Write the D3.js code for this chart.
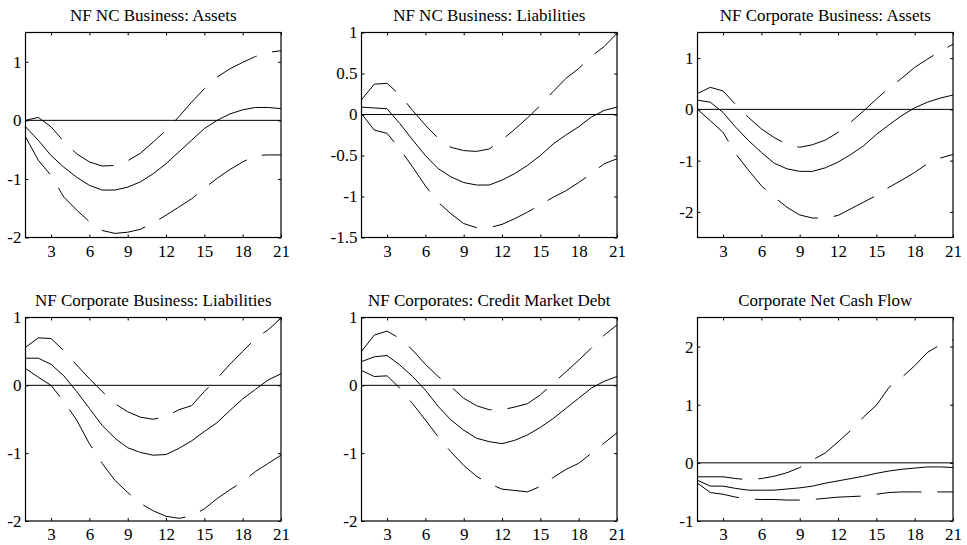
<!DOCTYPE html>
<html>
<head>
<meta charset="utf-8">
<script src="https://cdn.jsdelivr.net/npm/d3@7"></script>
<style>
  body { margin: 0; background: #fff; }
  text { font-family: "Liberation Serif", "Times New Roman", Times, serif; fill: #000; }
</style>
</head>
<body>
<svg id="chart" width="967" height="545"></svg>
<script>
// Impulse-response horizon (quarters) and shared tick marks
const horizon = [1, 2, 3, 4, 5, 6, 7, 8, 9, 10, 11, 12, 13, 14, 15, 16, 17, 18, 19, 20, 21];
const xTickValues = [3, 6, 9, 12, 15, 18, 21];

const titles = [
  "NF NC Business: Assets",
  "NF NC Business: Liabilities",
  "NF Corporate Business: Assets",
  "NF Corporate Business: Liabilities",
  "NF Corporates: Credit Market Debt",
  "Corporate Net Cash Flow"
];
const yDomains = [[-2, 1.5], [-1.5, 1], [-2.5, 1.5], [-2, 1], [-2, 1], [-1, 2.5]];
const yTickValues = [
  [-2, -1, 0, 1],
  [-1.5, -1, -0.5, 0, 0.5, 1],
  [-2, -1, 0, 1],
  [-2, -1, 0, 1],
  [-2, -1, 0, 1],
  [-1, 0, 1, 2]
];

// NF noncorporate business: assets
const ncAssetsMid   = [-0.11, -0.34, -0.60, -0.80, -0.97, -1.11, -1.19, -1.19, -1.14, -1.05, -0.91, -0.74, -0.54, -0.34, -0.14, 0.00, 0.11, 0.18, 0.22, 0.22, 0.20];
const ncAssetsUpper = [0.00, 0.05, -0.11, -0.36, -0.57, -0.71, -0.78, -0.77, -0.69, -0.56, -0.37, -0.17, 0.06, 0.31, 0.54, 0.74, 0.88, 0.99, 1.09, 1.16, 1.19];
const ncAssetsLower = [-0.28, -0.68, -0.94, -1.31, -1.53, -1.73, -1.88, -1.93, -1.91, -1.86, -1.75, -1.62, -1.48, -1.34, -1.16, -0.99, -0.84, -0.71, -0.60, -0.59, -0.59];

// NF noncorporate business: liabilities
const ncLiabMid   = [0.09, 0.08, 0.07, -0.11, -0.31, -0.50, -0.66, -0.76, -0.83, -0.86, -0.86, -0.80, -0.72, -0.62, -0.50, -0.36, -0.25, -0.15, -0.03, 0.05, 0.09];
const ncLiabUpper = [0.18, 0.37, 0.38, 0.24, 0.05, -0.13, -0.29, -0.40, -0.44, -0.45, -0.42, -0.31, -0.18, -0.04, 0.11, 0.28, 0.44, 0.56, 0.71, 0.83, 0.99];
const ncLiabLower = [0.01, -0.19, -0.23, -0.42, -0.64, -0.87, -1.07, -1.21, -1.33, -1.38, -1.38, -1.34, -1.27, -1.19, -1.10, -1.01, -0.93, -0.83, -0.72, -0.60, -0.54];

// NF corporate business: assets
const corpAssetsMid   = [0.18, 0.14, -0.06, -0.35, -0.61, -0.84, -1.05, -1.16, -1.21, -1.21, -1.14, -1.03, -0.88, -0.71, -0.49, -0.30, -0.12, 0.03, 0.14, 0.22, 0.28];
const corpAssetsUpper = [0.31, 0.43, 0.36, 0.09, -0.16, -0.38, -0.55, -0.68, -0.74, -0.69, -0.60, -0.45, -0.25, -0.03, 0.20, 0.42, 0.61, 0.82, 0.98, 1.14, 1.27];
const corpAssetsLower = [0.00, -0.22, -0.45, -0.87, -1.19, -1.49, -1.71, -1.91, -2.06, -2.12, -2.12, -2.07, -1.94, -1.81, -1.68, -1.52, -1.38, -1.23, -1.06, -0.95, -0.88];

// NF corporate business: liabilities
const corpLiabMid   = [0.40, 0.40, 0.31, 0.14, -0.09, -0.34, -0.59, -0.78, -0.92, -0.99, -1.03, -1.02, -0.93, -0.82, -0.68, -0.55, -0.37, -0.20, -0.06, 0.08, 0.17];
const corpLiabUpper = [0.56, 0.70, 0.69, 0.51, 0.30, 0.10, -0.09, -0.27, -0.39, -0.47, -0.50, -0.46, -0.36, -0.30, -0.09, 0.10, 0.31, 0.50, 0.69, 0.82, 0.99];
const corpLiabLower = [0.25, 0.12, 0.00, -0.24, -0.51, -0.86, -1.15, -1.40, -1.58, -1.74, -1.85, -1.93, -1.96, -1.93, -1.82, -1.67, -1.54, -1.42, -1.27, -1.15, -1.03];

// NF corporates: credit market debt
const debtMid   = [0.35, 0.42, 0.44, 0.30, 0.13, -0.07, -0.31, -0.51, -0.66, -0.78, -0.83, -0.86, -0.81, -0.73, -0.62, -0.49, -0.34, -0.19, -0.04, 0.06, 0.13];
const debtUpper = [0.50, 0.74, 0.80, 0.69, 0.52, 0.31, 0.13, -0.02, -0.19, -0.30, -0.36, -0.36, -0.32, -0.27, -0.14, 0.03, 0.20, 0.37, 0.55, 0.74, 0.89];
const debtLower = [0.22, 0.13, 0.14, -0.04, -0.27, -0.51, -0.76, -0.98, -1.18, -1.34, -1.45, -1.53, -1.55, -1.57, -1.49, -1.36, -1.24, -1.15, -1.00, -0.85, -0.70];

// Corporate net cash flow
const cashMid   = [-0.30, -0.40, -0.40, -0.44, -0.47, -0.47, -0.47, -0.45, -0.43, -0.40, -0.35, -0.31, -0.27, -0.23, -0.18, -0.14, -0.11, -0.09, -0.07, -0.07, -0.08];
const cashUpper = [-0.24, -0.24, -0.24, -0.27, -0.29, -0.27, -0.23, -0.17, -0.08, 0.05, 0.17, 0.36, 0.56, 0.79, 0.99, 1.30, 1.47, 1.67, 1.90, 2.03, 2.12];
const cashLower = [-0.35, -0.51, -0.54, -0.59, -0.62, -0.63, -0.63, -0.64, -0.64, -0.63, -0.61, -0.59, -0.58, -0.57, -0.54, -0.51, -0.50, -0.50, -0.50, -0.50, -0.50];

const mids   = [ncAssetsMid, ncLiabMid, corpAssetsMid, corpLiabMid, debtMid, cashMid];
const uppers = [ncAssetsUpper, ncLiabUpper, corpAssetsUpper, corpLiabUpper, debtUpper, cashUpper];
const lowers = [ncAssetsLower, ncLiabLower, corpAssetsLower, corpLiabLower, debtLower, cashLower];

// Grid of panels: 3 columns x 2 rows
const colLeft = [25.5, 361.5, 697.5];
const panelW = 255.5;
const rowTop = [32.5, 317.5];
const rowH = [205, 203.5];

const svg = d3.select("#chart");
svg.append("rect").attr("width", 967).attr("height", 545).attr("fill", "#fff");

titles.forEach((title, i) => {
  const col = i % 3, row = Math.floor(i / 3);
  const w = panelW, h = rowH[row];
  const g = svg.append("g").attr("transform", `translate(${colLeft[col]},${rowTop[row]})`);

  const x = d3.scaleLinear().domain([1, 21]).range([0, w]);
  const y = d3.scaleLinear().domain(yDomains[i]).range([h, 0]);

  // Title
  g.append("text")
    .attr("x", w / 2).attr("y", -12)
    .attr("text-anchor", "middle")
    .attr("font-size", 17)
    .text(title);

  // Axes with inward ticks on all four sides
  const fmt = d => String(d);
  const bottom = g.append("g").attr("transform", `translate(0,${h})`)
    .call(d3.axisBottom(x).tickValues(xTickValues).tickFormat(fmt).tickSizeInner(-3).tickSizeOuter(0).tickPadding(7));
  const top = g.append("g")
    .call(d3.axisTop(x).tickValues(xTickValues).tickFormat("").tickSizeInner(-3).tickSizeOuter(0));
  const left = g.append("g")
    .call(d3.axisLeft(y).tickValues(yTickValues[i]).tickFormat(fmt).tickSizeInner(-3).tickSizeOuter(0).tickPadding(4));
  const right = g.append("g").attr("transform", `translate(${w},0)`)
    .call(d3.axisRight(y).tickValues(yTickValues[i]).tickFormat("").tickSizeInner(-3).tickSizeOuter(0));

  [bottom, top, left, right].forEach(a => {
    a.attr("font-family", null);
    a.select(".domain").remove();
    a.selectAll("line").attr("stroke", "#000").attr("stroke-width", 1);
    a.selectAll("text").attr("font-size", 17);
  });

  // Zero reference line
  g.append("line")
    .attr("x1", 0).attr("x2", w)
    .attr("y1", y(0)).attr("y2", y(0))
    .attr("stroke", "#000").attr("stroke-width", 1);

  const line = d3.line().x((d, k) => x(horizon[k])).y(d => y(d));

  // Confidence bands (dashed) and median response (solid)
  [uppers[i], lowers[i]].forEach(series => {
    g.append("path").datum(series)
      .attr("d", line)
      .attr("fill", "none").attr("stroke", "#000").attr("stroke-width", 1)
      .attr("stroke-dasharray", "45,16");
  });
  g.append("path").datum(mids[i])
    .attr("d", line)
    .attr("fill", "none").attr("stroke", "#000").attr("stroke-width", 1);

  // Frame
  g.append("rect")
    .attr("x", 0).attr("y", 0).attr("width", w).attr("height", h)
    .attr("fill", "none").attr("stroke", "#000").attr("stroke-width", 1.2);
});
</script>
</body>
</html>
